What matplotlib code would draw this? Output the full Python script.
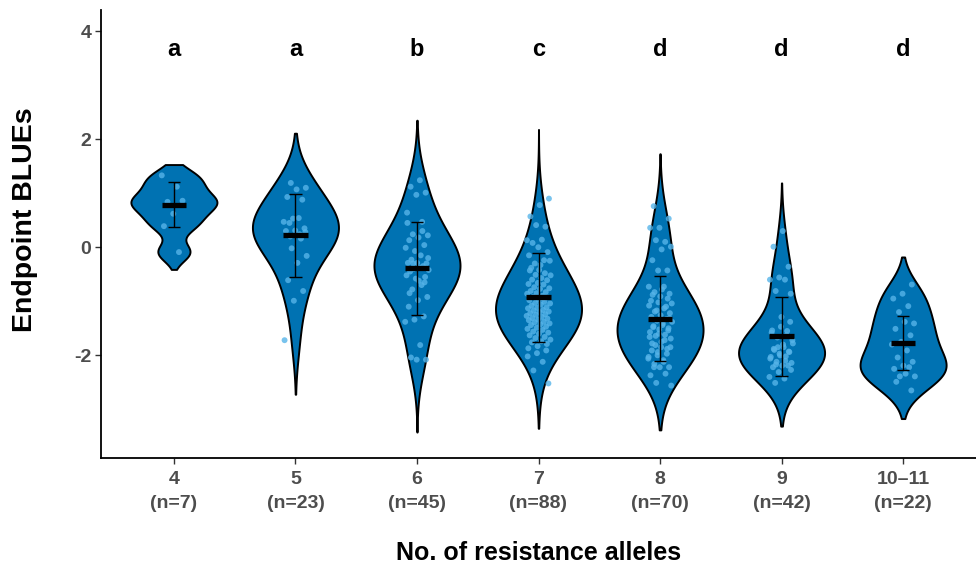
import matplotlib
matplotlib.use("Agg")
import matplotlib.pyplot as plt
from matplotlib import font_manager
import numpy as np

# resistance allele classes, group sizes and significance letters
alleles = ["4", "5", "6", "7", "8", "9", "10\u201311"]
n_obs = [7, 23, 45, 88, 70, 42, 22]
letters = ["a", "a", "b", "c", "d", "d", "d"]

# endpoint BLUEs per class
blue_4 = [1.33, 1.12, 0.84, 0.86, 0.62, 0.39, -0.09]
blue_5 = [1.19, 1.10, 1.07, 0.93, 0.88, 0.53, 0.47, 0.54, 0.45, 0.35, 0.31, 0.30,
          0.16, -0.02, -0.16, -0.29, -0.61, -0.81, -0.99, -1.72, 0.24, 0.20, 0.28]
blue_6 = [1.24, 1.12, 1.01, 0.97, 0.64, 0.47, 0.24, 0.22, 0.18, 0.13, 0.04, -0.07,
          -0.01, -0.15, -0.23, -0.30, -0.29, -0.29, -0.35, -0.40, -0.42, -0.38, -0.45,
          -0.55, -0.58, -0.52, -0.70, -0.78, -0.92, -0.98, -1.10, -1.28, -1.34, -1.38,
          -1.81, -2.04, -2.08, -2.08, 0.45, 0.30, -0.30, -0.20, -0.62, -0.85, -0.65]
blue_7 = [0.90, 0.78, 0.57, 0.38, 0.41, 0.13, 0.14, 0.08, -0.09, 0.00, -0.15, -0.24,
          -0.30, -0.25, -0.33, -0.38, -1.91, -1.96, -2.02, -2.12, -2.28, -2.52,
          -0.42, -0.43, -0.48, -0.51, -0.52, -0.57, -0.60, -0.61, -0.66, -0.68,
          -0.69, -0.74, -0.76, -0.77, -0.81, -0.83, -0.85, -0.86, -0.90, -0.92,
          -0.93, -0.97, -0.98, -1.01, -1.03, -1.04, -1.06, -1.08, -1.11, -1.12,
          -1.13, -1.16, -1.17, -1.19, -1.20, -1.22, -1.24, -1.25, -1.27, -1.29,
          -1.31, -1.32, -1.34, -1.35, -1.38, -1.39, -1.41, -1.43, -1.44, -1.47,
          -1.49, -1.51, -1.53, -1.56, -1.58, -1.60, -1.63, -1.66, -1.68, -1.71,
          -1.74, -1.76, -1.79, -1.83, -1.87, -0.95]
blue_8 = [0.76, 0.53, 0.36, 0.36, 0.10, 0.13, 0.01, -0.04, -0.24, -0.43, -0.43,
          -0.73, -0.73, -0.83, -0.86, -0.91, -0.99, -1.10, -1.17, -1.04, -1.44,
          -1.48, -1.54, -1.60, -1.66, -1.72, -1.81, -1.85, -1.85, -1.91, -1.97,
          -2.00, -2.06, -2.09, -2.22, -2.22, -2.22, -2.37, -2.34, -2.51, -2.56,
          -0.78, -0.88, -0.95, -1.02, -1.08, -1.13, -1.19, -1.22, -1.26, -1.29,
          -1.33, -1.36, -1.38, -1.41, -1.46, -1.50, -1.52, -1.57, -1.62, -1.64,
          -1.69, -1.75, -1.78, -1.88, -1.94, -2.03, -2.12, -2.16, -1.31]
blue_9 = [0.30, 0.01, -0.36, -0.56, -0.60, -0.60, -0.81, -0.86, -1.29, -1.54, -1.55,
          -1.85, -1.78, -1.85, -1.90, -1.94, -2.00, -2.03, -2.02, -2.12, -2.14, -2.19,
          -2.22, -2.19, -2.31, -2.40, -2.43, -2.51,
          -1.38, -1.47, -1.58, -1.63, -1.67, -1.72, -1.80, -1.88, -1.93, -1.97,
          -2.06, -2.10, -2.17, -2.27]
blue_10 = [-0.69, -0.86, -0.95, -1.09, -1.20, -1.41, -1.38, -1.51, -1.63, -1.75,
           -1.80, -1.91, -2.04, -2.12, -2.19, -2.25, -2.22, -2.39, -2.39, -2.34,
           -2.49, -2.65]
groups = [blue_4, blue_5, blue_6, blue_7, blue_8, blue_9, blue_10]

# mean and sd bars as drawn
means = [0.79, 0.22, -0.39, -0.93, -1.32, -1.65, -1.77]
sds = [0.42, 0.77, 0.855, 0.83, 0.78, 0.725, 0.495]

# extent of each violin outline and its smoothing bandwidth
violin_lo = [-0.41, -2.72, -3.42, -3.35, -3.38, -3.31, -3.17]
violin_hi = [1.53, 2.11, 2.35, 2.18, 1.73, 1.19, -0.18]
violin_bw = [0.17, 0.45, 0.48, 0.45, 0.45, 0.40, 0.30]

names = [f.name for f in font_manager.fontManager.ttflist]
fam = "Liberation Sans" if "Liberation Sans" in names else "DejaVu Sans"
plt.rcParams["font.family"] = [fam, "DejaVu Sans"]

fig = plt.figure(figsize=(9.76, 5.65), dpi=100)
ax = fig.add_axes([101 / 976, 107 / 565, 875 / 976, 448 / 565])

half_w = 0.354
for i, vals in enumerate(groups):
    pos = i + 1
    vals = np.asarray(vals)
    bw = violin_bw[i]
    yy = np.linspace(violin_lo[i], violin_hi[i], 400)
    dens = np.exp(-0.5 * ((yy[:, None] - vals[None, :]) / bw) ** 2).sum(axis=1)
    dens = dens / dens.max() * half_w
    ax.fill_betweenx(yy, pos - dens, pos + dens, facecolor="#0072B2",
                     edgecolor="black", linewidth=1.4, zorder=2)

    # deterministic jitter
    k = np.arange(len(vals))
    jit = ((k * 0.6180339887 + 0.31 * i) % 1.0 - 0.5) * 0.2
    ax.scatter(pos + jit, vals, s=18, color="#56B4E9", alpha=0.8,
               edgecolors="none", zorder=3)

    m, s = means[i], sds[i]
    ax.vlines(pos, m - s, m + s, color="black", linewidth=1.0, zorder=4)
    ax.hlines([m - s, m + s], pos - 0.05, pos + 0.05, color="black",
              linewidth=1.0, zorder=4)
    ax.hlines(m, pos - 0.1, pos + 0.1, color="black", linewidth=3.8, zorder=5)

    ax.text(pos, 3.65, letters[i], ha="center", va="center", fontsize=17,
            fontweight="bold", color="black")

ax.set_xlim(0.4, 7.6)
ax.set_ylim(-3.9, 4.39)
ax.set_xticks(range(1, 8))
ax.set_xticklabels([a + "\n(n=" + str(n) + ")" for a, n in zip(alleles, n_obs)],
                   linespacing=1.6)
ax.set_yticks([-2, 0, 2, 4])
ax.set_yticklabels(["-2", "0", "2", "4"])
for lab in ax.get_xticklabels() + ax.get_yticklabels():
    lab.set_fontweight("bold")
    lab.set_fontsize(14)
    lab.set_color("#4D4D4D")
ax.tick_params(length=4, width=1.0, color="#333333", pad=3)
ax.tick_params(axis="x", pad=5)

for side in ["top", "right"]:
    ax.spines[side].set_visible(False)
for side in ["left", "bottom"]:
    ax.spines[side].set_linewidth(1.3)
    ax.spines[side].set_color("black")

fig.text((101 + 976) / 2 / 976, 1 - 560 / 565, "No. of resistance alleles",
         ha="center", va="baseline", fontsize=18, fontweight="bold")
fig.text(25 / 976, 1 - 220 / 565, "Endpoint BLUEs", rotation=90,
         ha="center", va="center", fontsize=20.5, fontweight="bold")

fig.savefig("out.png", dpi=100)
